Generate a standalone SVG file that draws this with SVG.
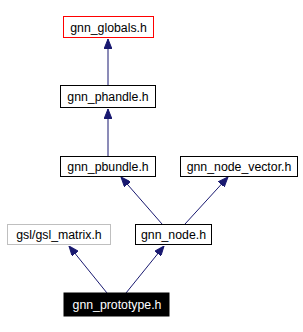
<svg xmlns="http://www.w3.org/2000/svg" width="303" height="332" viewBox="0 0 303 332">
<style>
.n rect{fill:#fff;stroke:#000;stroke-width:1}
text{font-family:"Liberation Sans",Arial,sans-serif;font-size:12.3px;text-anchor:middle;fill:#000}
.e{stroke:#191970;stroke-width:1;fill:none}
</style>
<defs>
<marker id="a" markerWidth="10" markerHeight="8" refX="10" refY="4" orient="auto" markerUnits="userSpaceOnUse">
<path d="M0,0 L10,4 L0,8 Z" fill="#191970" stroke="#191970"/>
</marker>
</defs>
<rect width="303" height="332" fill="#fff"/>
<g id="edges">
<line class="e" x1="108" y1="85" x2="108" y2="39" marker-end="url(#a)"/>
<line class="e" x1="108" y1="156" x2="108" y2="109" marker-end="url(#a)"/>
<line class="e" x1="162" y1="224" x2="121" y2="177" marker-end="url(#a)"/>
<line class="e" x1="185" y1="224" x2="228" y2="177" marker-end="url(#a)"/>
<line class="e" x1="107" y1="293" x2="69" y2="246" marker-end="url(#a)"/>
<line class="e" x1="126" y1="293" x2="164" y2="246" marker-end="url(#a)"/>
</g>
<g id="gnn_globals" class="n"><rect x="63.5" y="16.5" width="90" height="21" style="stroke:#f00"/><text x="108.5" y="31.5">gnn_globals.h</text></g>
<g id="gnn_phandle" class="n"><rect x="60.5" y="85.5" width="95" height="22"/><text x="108" y="101">gnn_phandle.h</text></g>
<g id="gnn_pbundle" class="n"><rect x="60.5" y="156.5" width="95" height="20"/><text x="108" y="171">gnn_pbundle.h</text></g>
<g id="gnn_node_vector" class="n"><rect x="180.5" y="156.5" width="117" height="20"/><text x="239" y="171">gnn_node_vector.h</text></g>
<g id="gsl_matrix" class="n"><rect x="7.5" y="224.5" width="103" height="20" style="stroke:#bfbfbf"/><text x="59" y="239">gsl/gsl_matrix.h</text></g>
<g id="gnn_node" class="n"><rect x="135.5" y="224.5" width="76" height="20"/><text x="173.5" y="239">gnn_node.h</text></g>
<g id="gnn_prototype" class="n"><rect x="64" y="293" width="105" height="23" style="fill:#000;stroke:#000"/><text x="117" y="309" style="fill:#fff">gnn_prototype.h</text></g>
</svg>
